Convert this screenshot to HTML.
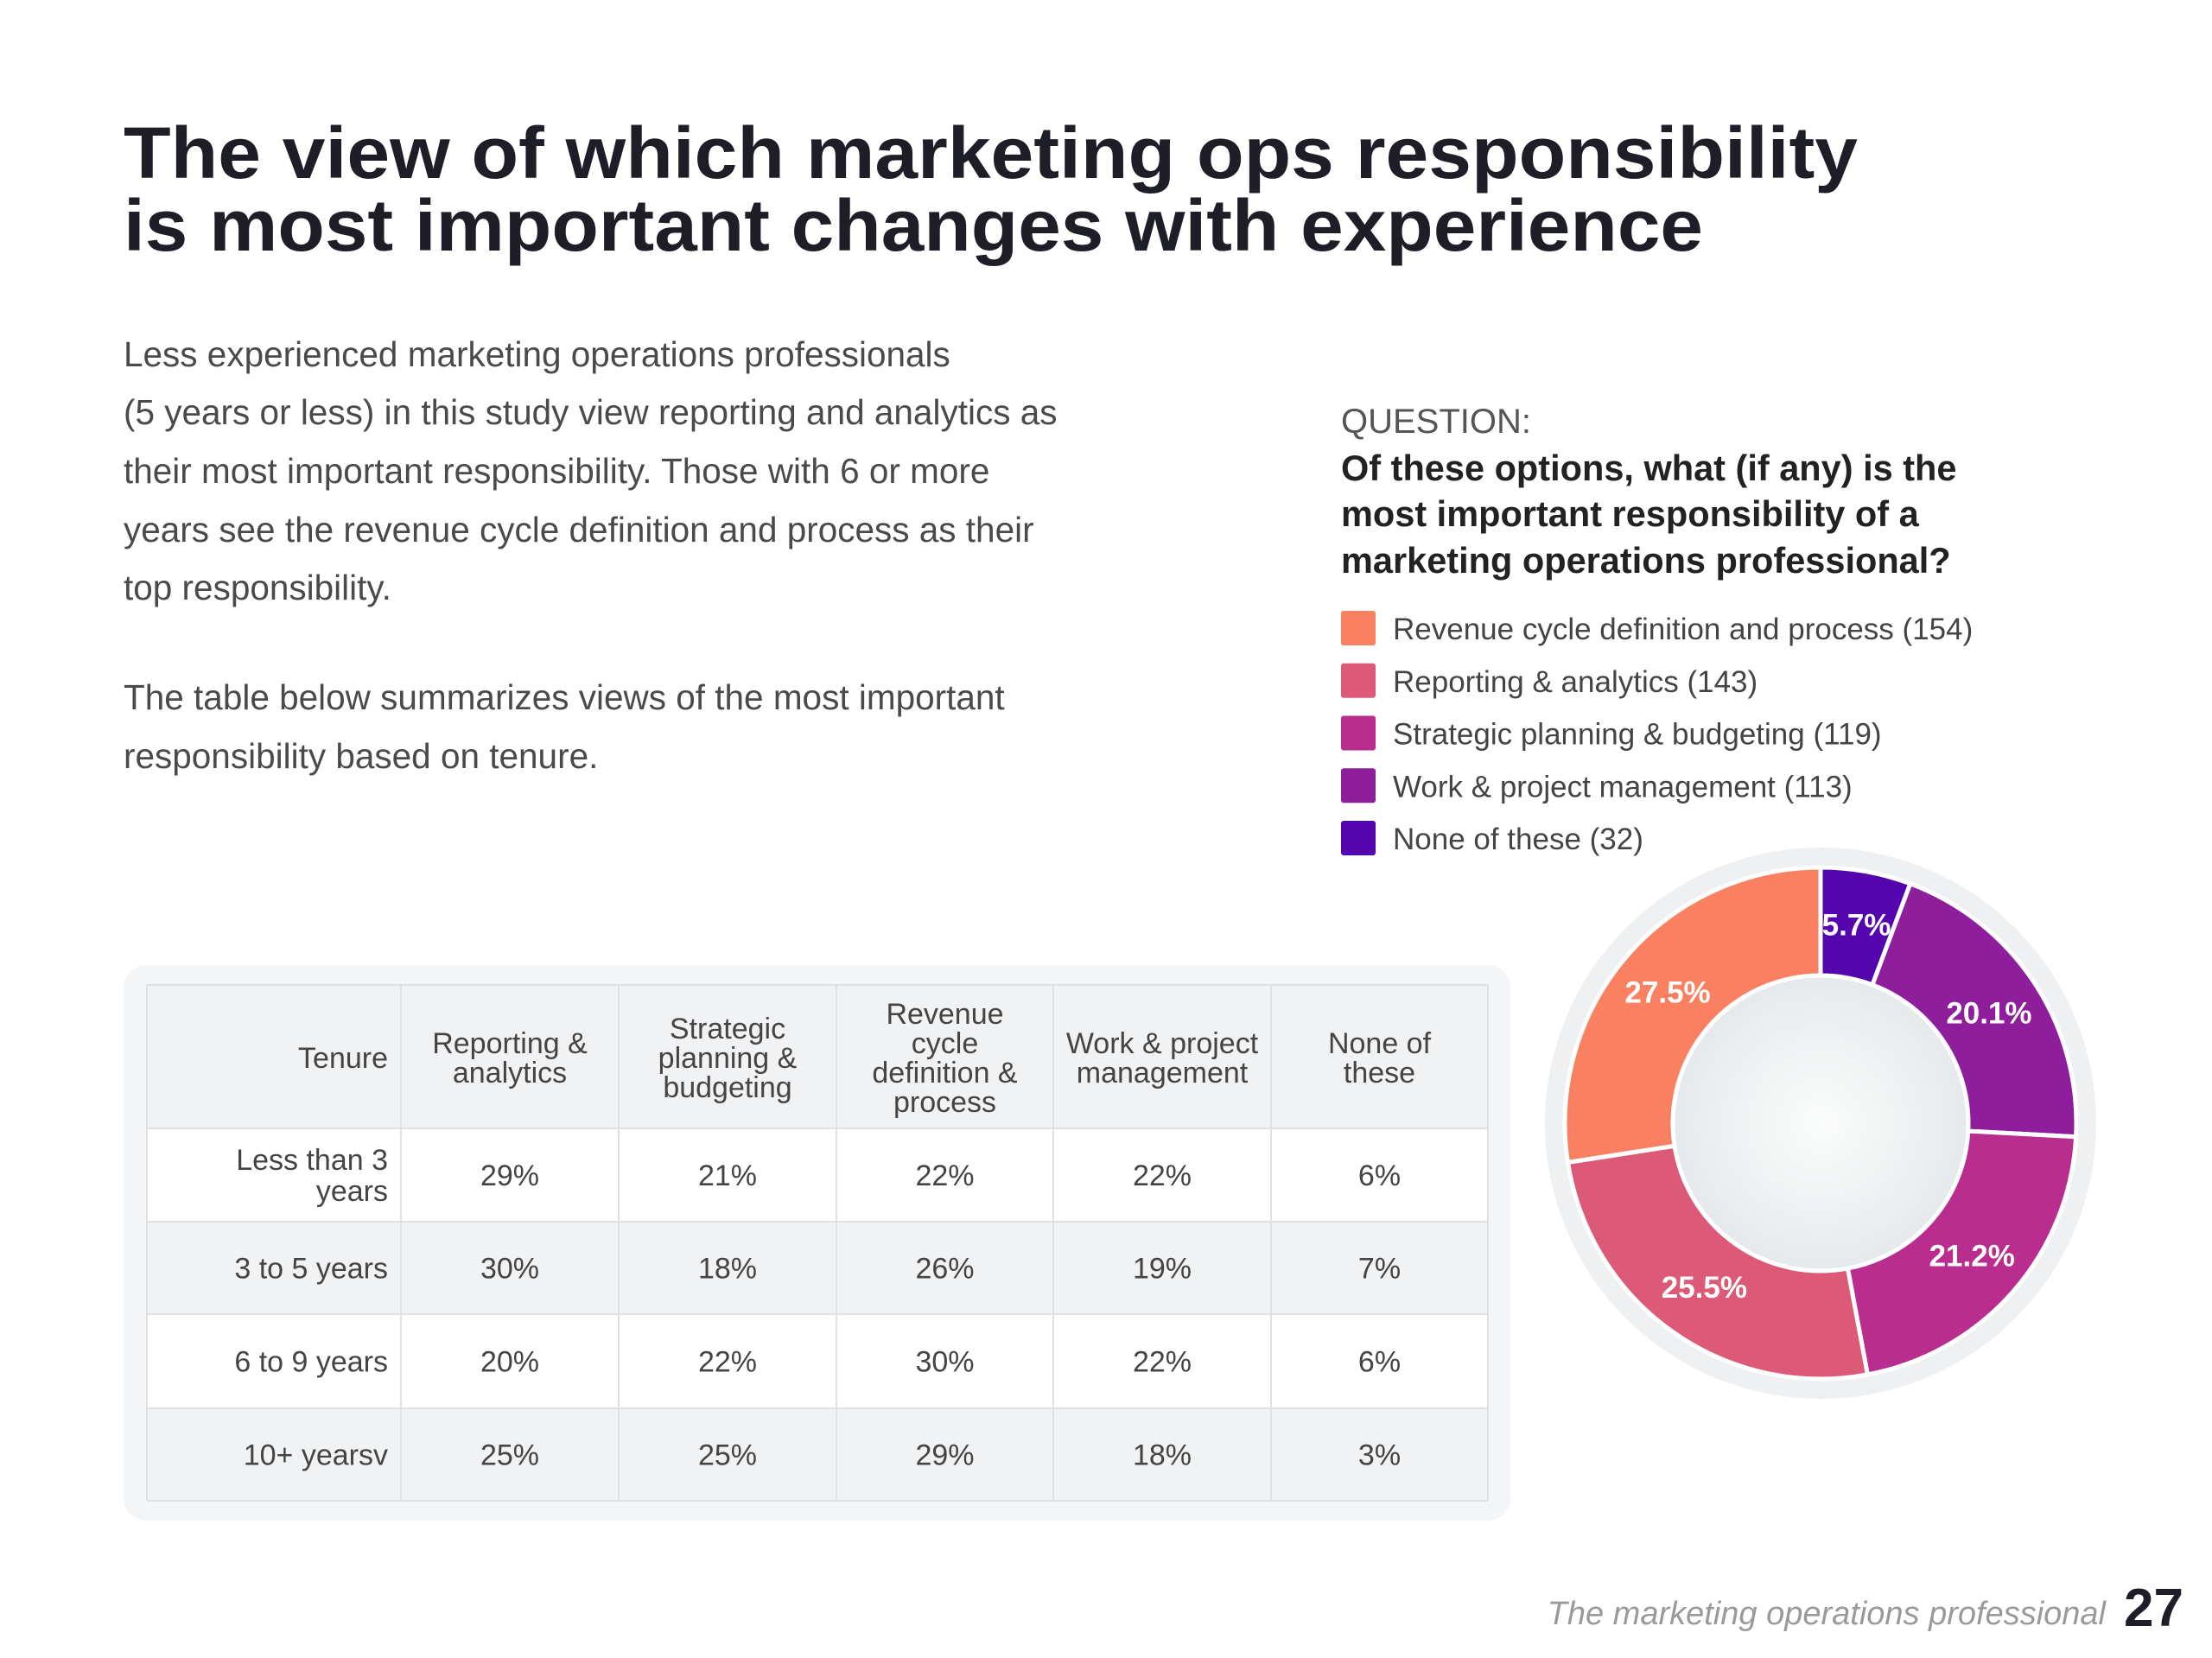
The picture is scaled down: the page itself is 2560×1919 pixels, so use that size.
<!DOCTYPE html>
<html><head><meta charset="utf-8"><style>
html,body{margin:0;padding:0;background:#fff;}
svg{display:block;}
text{font-family:"Liberation Sans",sans-serif;}
</style></head><body>
<svg id="page" width="2560" height="1919" viewBox="0 0 2560 1919" xmlns="http://www.w3.org/2000/svg">
<defs>
<radialGradient id="hole" cx="0.5" cy="0.5" r="0.5">
<stop offset="0" stop-color="#fbfcfc"/><stop offset="1" stop-color="#e6e9eb"/>
</radialGradient>
</defs>
<g fill="#1e1e28" font-weight="bold" font-size="84">
<text x="143" y="206" textLength="2007" lengthAdjust="spacingAndGlyphs">The view of which marketing ops responsibility</text>
<text x="143" y="290" textLength="1828" lengthAdjust="spacingAndGlyphs">is most important changes with experience</text>
</g>
<g fill="#4a4a4a" font-size="40.5">
<text x="143" y="424">Less experienced marketing operations professionals</text>
<text x="143" y="491">(5 years or less) in this study view reporting and analytics as</text>
<text x="143" y="559">their most important responsibility. Those with 6 or more</text>
<text x="143" y="627">years see the revenue cycle definition and process as their</text>
<text x="143" y="694">top responsibility.</text>
<text x="143" y="821">The table below summarizes views of the most important</text>
<text x="143" y="889">responsibility based on tenure.</text>
</g>
<g>
<text x="1552" y="501" fill="#555" font-size="40">QUESTION:</text>
<g fill="#222" font-size="41.5" font-weight="bold">
<text x="1552" y="556">Of these options, what (if any) is the</text>
<text x="1552" y="609">most important responsibility of a</text>
<text x="1552" y="663">marketing operations professional?</text>
</g>
</g>
<g id="legend"></g>
<g id="table"></g>
<g id="donut"></g>
<g>
<text x="2437" y="1880" text-anchor="end" fill="#9a9a9a" font-size="38" font-style="italic">The marketing operations professional</text>
<text x="2458" y="1882" fill="#1e1e28" font-size="62" font-weight="bold">27</text>
</g>
</svg>
<script>
const NS="http://www.w3.org/2000/svg";
const categories=["Revenue cycle definition and process","Reporting & analytics","Strategic planning & budgeting","Work & project management","None of these"];
const counts=[154,143,119,113,32];
const colors=["#f98061","#dc5a78","#b92d8f","#8e1e9c","#5405ad"];
const tenures=[["Less than 3","years"],["3 to 5 years"],["6 to 9 years"],["10+ yearsv"]];
const colHeaders=[["Reporting &","analytics"],["Strategic","planning &","budgeting"],["Revenue","cycle","definition &","process"],["Work & project","management"],["None of","these"]];
const tableValues=[[29,21,22,22,6],[30,18,26,19,7],[20,22,30,22,6],[25,25,29,18,3]];

function mk(tag,attrs,parent,txt){const e=document.createElementNS(NS,tag);for(const k in attrs)e.setAttribute(k,attrs[k]);if(txt!==undefined)e.textContent=txt;parent.appendChild(e);return e;}

const lg=document.getElementById('legend');
categories.forEach((c,i)=>{
  const y=727+i*60.75;
  const sw=mk('rect',{x:1552,y:y-20,width:40,height:40,rx:3,fill:colors[i]},lg);
  
  
  const t=mk('text',{x:1612,y:y+13,'font-size':35,fill:'#444'},lg,c+' ('+counts[i]+')');
  
  
});

const tb=document.getElementById('table');
mk('rect',{x:143,y:1117,width:1605,height:643,rx:26,fill:'#f4f5f6'},tb);
const colX=[170,464,716,968,1219,1471,1722];
const rowY=[1140,1306,1414,1521,1630,1737];
mk('rect',{x:170,y:1140,width:1552,height:166,fill:'#f1f2f4'},tb);
tableValues.forEach((r,i)=>{
  const bg=mk('rect',{x:170,y:rowY[i+1],width:1552,height:rowY[i+2]-rowY[i+1],fill:i%2?'#f1f2f4':'#ffffff'},tb);
  
  
});
colX.forEach(x=>mk('line',{x1:x,y1:1140,x2:x,y2:1737,stroke:'#dfe1e3','stroke-width':2},tb));
rowY.forEach(y=>mk('line',{x1:170,y1:y,x2:1722,y2:y,stroke:'#dfe1e3','stroke-width':2},tb));
function lines(arr,x,cy,anchor,lh,attrs){
  const y0=cy-(arr.length-1)*lh/2;
  const t=mk('text',Object.assign({x:x,'text-anchor':anchor,fill:'#444','font-size':34},attrs||{}),tb);
  arr.forEach((s,k)=>mk('tspan',{x:x,y:y0+k*lh+12},t,s));
  return t;
}
const hc=1224;
const th=lines(["Tenure"],449,hc,'end',34);


colHeaders.forEach((h,j)=>{
  const t=lines(h,(colX[j+1]+colX[j+2])/2,hc,'middle',34);
  
  
});
tableValues.forEach((r,i)=>{
  const cy=(rowY[i+1]+rowY[i+2])/2;
  const tl=lines(tenures[i],449,cy,'end',36);
  
  
  r.forEach((v,j)=>{
    const t=lines([v+'%'],(colX[j+1]+colX[j+2])/2,cy,'middle',34);
    
    
  });
});

const dn=document.getElementById('donut');
const cx=2107,cy=1300,R=296,r=171;
mk('circle',{cx:cx,cy:cy,r:319,fill:'#eef0f1'},dn);
mk('circle',{cx:cx,cy:cy,r:r,fill:'url(#hole)'},dn);
const total=counts.reduce((a,b)=>a+b,0);
const order=[4,3,2,1,0];
let a0=0;
function pt(rad,ang){return [cx+rad*Math.sin(ang),cy-rad*Math.cos(ang)];}
order.forEach(i=>{
  const a1=a0+counts[i]/total*2*Math.PI;
  const large=(a1-a0)>Math.PI?1:0;
  const p1=pt(R,a0),p2=pt(R,a1),p3=pt(r,a1),p4=pt(r,a0);
  const d=`M${p1}A${R},${R} 0 ${large} 1 ${p2}L${p3}A${r},${r} 0 ${large} 0 ${p4}Z`;
  const s=mk('path',{d:d,fill:colors[i],stroke:'#ffffff','stroke-width':5,'stroke-linejoin':'round'},dn);
  
  
  const am=(a0+a1)/2,lp=pt(233,am);
  const t=mk('text',{x:lp[0],y:lp[1]+12,'text-anchor':'middle',fill:'#fff','font-size':35,'font-weight':'bold'},dn,(counts[i]/total*100).toFixed(1)+'%');
  
  
  a0=a1;
});
</script>
</body></html>
